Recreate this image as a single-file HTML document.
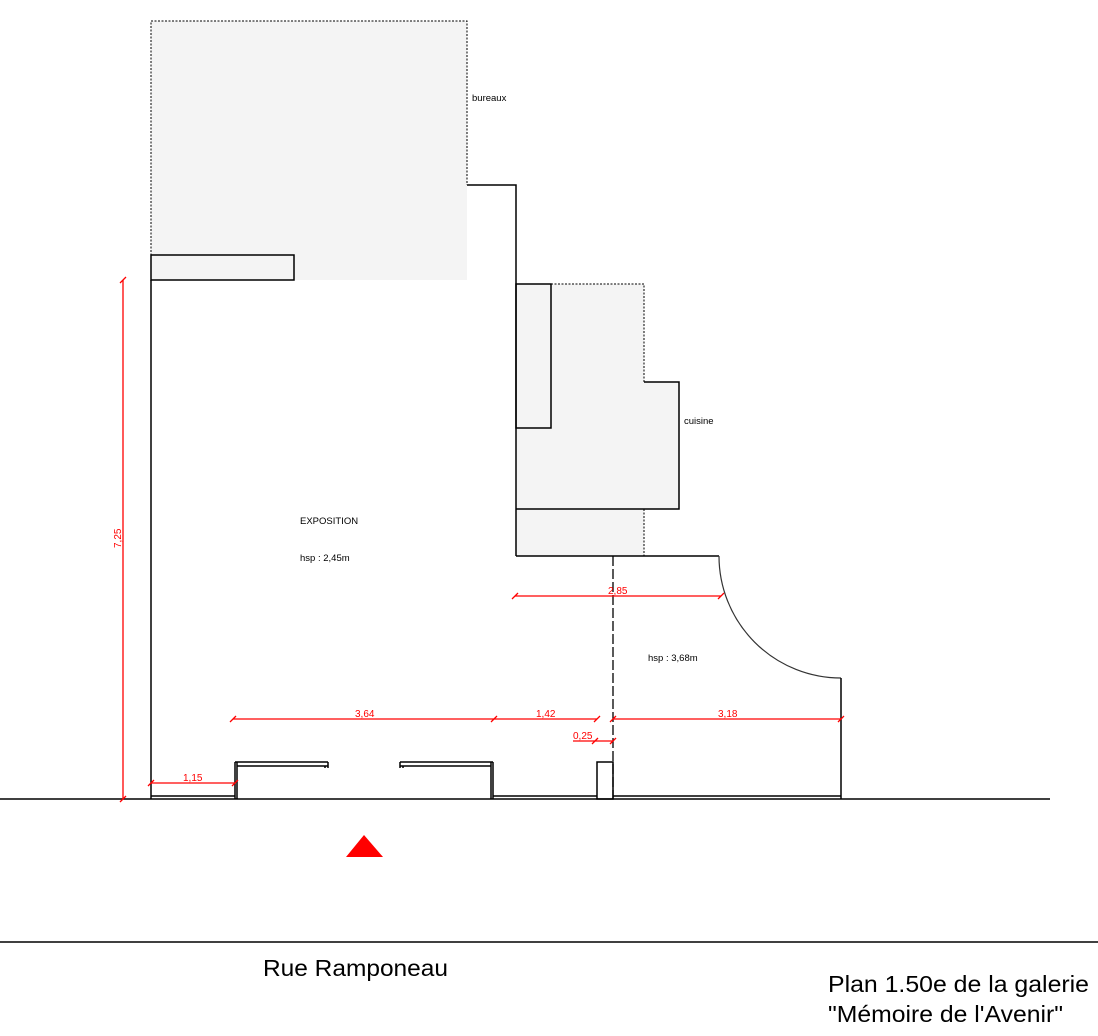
<!DOCTYPE html>
<html><head><meta charset="utf-8"><style>
html,body{margin:0;padding:0;background:#fff;}
svg{display:block;}
text{font-family:"Liberation Sans",sans-serif;}
</style></head><body>
<svg width="1098" height="1036" viewBox="0 0 1098 1036" xmlns="http://www.w3.org/2000/svg">
<rect x="151" y="21" width="316" height="259" fill="#f4f4f4"/>
<path d="M516 284 H644 V382 H679 V509 H644 V556 H516 Z" fill="#f4f4f4"/>
<g fill="none" stroke="#000" stroke-width="1" stroke-dasharray="2,1.5">
<path d="M151 280 V21 H467 V185"/>
<path d="M516 284 H644 V382"/>
<path d="M644 509 V556"/>
</g>
<g fill="none" stroke="#000" stroke-width="1.5">
<rect x="151" y="255" width="143" height="25"/>
<path d="M467 185 H516 V556"/>
<path d="M151 280 V799"/>
<rect x="516" y="284" width="35" height="144"/>
<path d="M644 382 H679 V509 H516"/>
<path d="M516 556 H719"/>
<path d="M719 556 A122 122 0 0 0 841 678" stroke="#333" stroke-width="1.2"/>
<path d="M841 678 V799"/>
<path d="M0 799 H1050"/>
<path d="M151 796 H235"/>
<path d="M235 762 V799 M237 762 V799"/>
<path d="M235 762 H328 M237 766 H328 M328 762 V768 M325 766 V768"/>
<path d="M400 762 H493 M400 766 H491 M400 762 V768 M403 766 V768"/>
<path d="M493 762 V799 M491 762 V799"/>
<path d="M493 796 H597"/>
<rect x="597" y="762" width="16" height="37"/>
<path d="M613 796 H841"/>
<path d="M0 942 H1098"/>
</g>
<path d="M613 556 V799" stroke="#000" stroke-width="1.3" stroke-dasharray="10,3" fill="none"/>
<g stroke="#f00" stroke-width="1.3" fill="none">
<path d="M123 280 V799"/>
<path d="M233 719 H597"/>
<path d="M613 719 H841"/>
<path d="M515 596 H721"/>
<path d="M573 741 H613"/>
<path d="M151 783 H235"/>
<path d="M120 283 L126 277 M120 802 L126 796 M230 722 L236 716 M491 722 L497 716 M594 722 L600 716 M610 722 L616 716 M838 722 L844 716 M512 599 L518 593 M718 599 L724 593 M592 744 L598 738 M610 744 L616 738 M148 786 L154 780 M232 786 L238 780"/>
</g>
<g fill="#f00" font-size="10">
<text x="355" y="717">3,64</text>
<text x="536" y="717">1,42</text>
<text x="718" y="717">3,18</text>
<text x="608" y="594">2,85</text>
<text x="573" y="739">0,25</text>
<text x="183" y="781">1,15</text>
<text transform="translate(121,548) rotate(-90)">7,25</text>
</g>
<g fill="#000" font-size="9.5">
<text x="472" y="101">bureaux</text>
<text x="684" y="424">cuisine</text>
<text x="300" y="524">EXPOSITION</text>
<text x="300" y="561">hsp : 2,45m</text>
<text x="648" y="661">hsp : 3,68m</text>
</g>
<polygon points="346,857 364,835 383,857" fill="#f00"/>
<g fill="#000" font-size="23">
<text x="263" y="976" textLength="185" lengthAdjust="spacingAndGlyphs">Rue Ramponeau</text>
<text x="828" y="992" textLength="261" lengthAdjust="spacingAndGlyphs">Plan 1.50e de la galerie</text>
<text x="828" y="1022" textLength="235" lengthAdjust="spacingAndGlyphs">"Mémoire de l'Avenir"</text>
</g>
</svg>
</body></html>
